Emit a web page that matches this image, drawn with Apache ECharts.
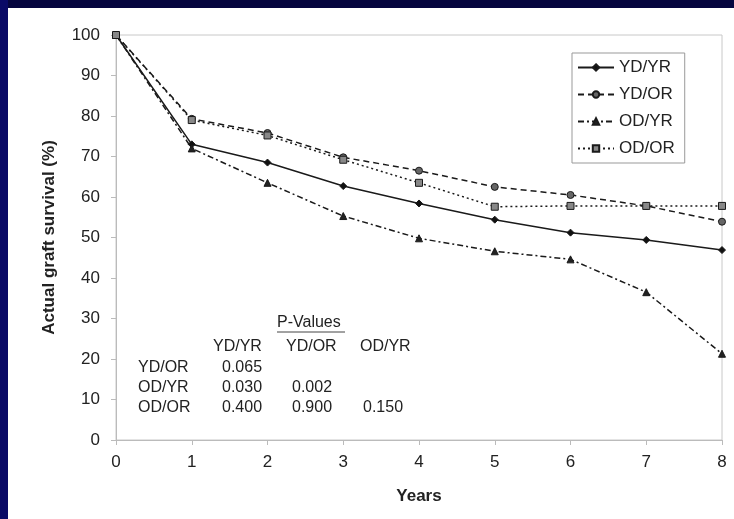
<!DOCTYPE html>
<html>
<head>
<meta charset="utf-8">
<script src="https://cdn.jsdelivr.net/npm/echarts@6/dist/echarts.min.js"></script>
<style>
  html, body { margin: 0; padding: 0; background: #fff; }
  #chart { width: 734px; height: 519px; }
</style>
</head>
<body>
<div id="chart"></div>
<script>
// years after transplant
var years = [0, 1, 2, 3, 4, 5, 6, 7, 8]
// actual graft survival (%)
var ydYr = [100, 73, 68.5, 62.7, 58.4, 54.4, 51.2, 49.4, 46.9]
var ydOr = [100, 79.3, 75.8, 69.8, 66.5, 62.5, 60.5, 57.8, 53.9]
var odYr = [100, 72, 63.5, 55.3, 49.8, 46.6, 44.6, 36.5, 21.3]
var odOr = [100, 79, 75.2, 69.2, 63.5, 57.6, 57.8, 57.8, 57.8]

// P-value table
var pTitle = 'P-Values'
var pCols = ['YD/YR', 'YD/OR', 'OD/YR']
var pRows = ['YD/OR', 'OD/YR', 'OD/OR']
var pValues = [
  ['0.065'],
  ['0.030', '0.002'],
  ['0.400', '0.900', '0.150']
]

var FONT = '"Liberation Sans", Arial, sans-serif'
var chart = echarts.init(document.getElementById('chart'))

function pairs(vals) {
  return years.map(function (y, i) { return [y, vals[i]] })
}

function makeSeries(name, vals, lineType, symbol, size, fill) {
  return {
    name: name,
    type: 'line',
    data: pairs(vals),
    symbol: symbol,
    symbolSize: size,
    lineStyle: { color: '#1a1a1a', width: 1.5, type: lineType },
    itemStyle: { color: fill, borderColor: '#1a1a1a', borderWidth: 1 },
    emphasis: { disabled: true },
    animation: false
  }
}

// build table text from arrays
var tableColX = [213, 286, 360]
var valueColX = [222, 292, 363]
var rowY = [368, 388, 408]
var txt = function (s, x, y) {
  return {
    type: 'text', x: x, y: y,
    style: { text: s, fill: '#222', font: '16px ' + FONT, verticalAlign: 'middle' }
  }
}
var graphics = [
  { type: 'rect', shape: { x: 0, y: 0, width: 734, height: 8 }, style: { fill: '#06063f' } },
  { type: 'rect', shape: { x: 0, y: 0, width: 8, height: 519 }, style: { fill: '#0a0a66' } },
  txt(pTitle, 277, 323),
  { type: 'line', shape: { x1: 277, y1: 332, x2: 345, y2: 332 }, style: { stroke: '#444', lineWidth: 1 } }
]
pCols.forEach(function (c, i) { graphics.push(txt(c, tableColX[i], 347)) })
pRows.forEach(function (r, i) {
  graphics.push(txt(r, 138, rowY[i]))
  pValues[i].forEach(function (v, j) { graphics.push(txt(v, valueColX[j], rowY[i])) })
})

chart.setOption({
  backgroundColor: '#fff',
  textStyle: { fontFamily: FONT },
  grid: {
    left: 116, right: 12, top: 35, bottom: 79,
    show: true, borderColor: '#c8c8c8', borderWidth: 1
  },
  legend: {
    orient: 'vertical',
    left: 572, top: 53,
    padding: [6, 10, 6, 5],
    itemGap: 10,
    itemWidth: 36, itemHeight: 8,
    borderColor: '#999', borderWidth: 1,
    textStyle: { fontSize: 17, color: '#222', fontFamily: FONT },
    data: ['YD/YR', 'YD/OR', 'OD/YR', 'OD/OR']
  },
  xAxis: {
    type: 'value',
    min: 0, max: 8, interval: 1,
    name: 'Years',
    nameLocation: 'middle',
    nameGap: 48,
    nameTextStyle: { fontSize: 17, fontWeight: 'bold', color: '#222' },
    axisLine: { lineStyle: { color: '#bbb' } },
    axisTick: { length: 5, lineStyle: { color: '#bbb' } },
    axisLabel: { fontSize: 17, color: '#222', margin: 14 },
    splitLine: { show: false }
  },
  yAxis: {
    type: 'value',
    min: 0, max: 100, interval: 10,
    name: 'Actual graft survival (%)',
    nameLocation: 'middle',
    nameGap: 58,
    nameTextStyle: { fontSize: 17, fontWeight: 'bold', color: '#222' },
    axisLine: { show: true, lineStyle: { color: '#bbb' } },
    axisTick: { show: true, length: 5, lineStyle: { color: '#bbb' } },
    axisLabel: { fontSize: 17, color: '#222', margin: 16 },
    splitLine: { show: false }
  },
  series: [
    makeSeries('YD/YR', ydYr, 'solid', 'diamond', 7, '#111'),
    makeSeries('YD/OR', ydOr, [6, 4], 'circle', 7, '#666'),
    makeSeries('OD/YR', odYr, [6, 3, 2, 3], 'triangle', 7, '#222'),
    makeSeries('OD/OR', odOr, [2, 3], 'rect', 7, '#888')
  ],
  graphic: graphics
})
</script>
</body>
</html>
